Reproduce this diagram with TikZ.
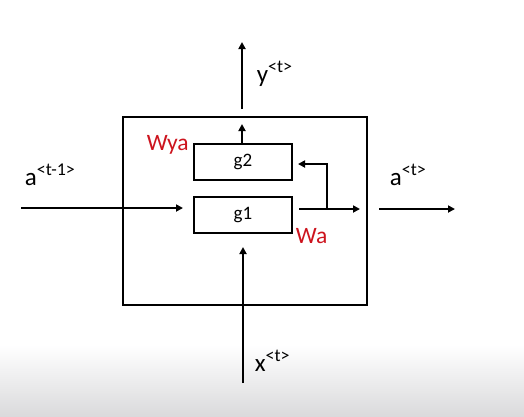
\documentclass[tikz,border=0pt]{standalone}
\usepackage{fontspec}
\setmainfont{Carlito}
\usetikzlibrary{arrows.meta}
\definecolor{wred}{RGB}{205,20,30}
\definecolor{bggray}{RGB}{218,218,220}
\newcommand{\supt}[1]{\raisebox{10pt}{\fontsize{18}{18}\selectfont #1}}
\begin{document}
\begin{tikzpicture}[x=1pt,y=-1pt,
  line width=1.8pt,
  arr/.style={-{Triangle[length=7pt,width=7pt]}},
  gbox/.style={draw, minimum width=98pt, minimum height=36pt, inner sep=0pt, font=\fontsize{19}{19}\selectfont},
  lbl/.style={inner sep=0pt, anchor=base west, font=\fontsize{25}{25}\selectfont},
  wlbl/.style={inner sep=0pt, anchor=base west, text=wred, font=\fontsize{23.5}{23.5}\selectfont}]
\useasboundingbox (0,0) rectangle (524,416);
\fill[white] (0,0) rectangle (524,416);
\shade[top color=white, bottom color=bggray] (0,345) rectangle (524,416);

% boxes
\node[draw, minimum width=244pt, minimum height=188pt, inner sep=0pt] (outer) at (245,211) {};
\node[gbox] (g2) at (243,162) {g2};
\node[gbox] (g1) at (243,215) {g1};

% coordinates
\coordinate (ystart) at (242,109);
\coordinate (yend) at (242,42);
\coordinate (g2top) at (242,144);
\coordinate (g2out) at (242,124);
\coordinate (ain) at (21,208);
\coordinate (ainend) at (183,208);
\coordinate (g1out) at (299,209);
\coordinate (branch) at (327,209);
\coordinate (corner) at (327,164);
\coordinate (g2in) at (298,164);
\coordinate (aoutend) at (360,209);
\coordinate (rstart) at (379,209);
\coordinate (rend) at (455,209);
\coordinate (xstart) at (243,383);
\coordinate (xend) at (243,247);

% connectors
\draw[arr] (ystart) -- (yend);
\draw[arr] (g2top) -- (g2out);
\draw[arr] (ain) -- (ainend);
\draw[arr] (g1out) -- (aoutend);
\draw[arr] (branch) -- (corner) -- (g2in);
\draw[arr] (rstart) -- (rend);
\draw[arr] (xstart) -- (xend);

% labels
\node[lbl] (ylbl) at (256,82) {y\supt{<t>}};
\node[lbl] (aprev) at (24,185) {a\supt{<t-1>}};
\node[lbl] (anext) at (389,185) {a\supt{<t>}};
\node[lbl] (xlbl) at (254,371) {x\supt{<t>}};
\node[wlbl] (wya) at (146,150) {Wya};
\node[wlbl] (wa) at (295,243) {Wa};
\end{tikzpicture}
\end{document}
